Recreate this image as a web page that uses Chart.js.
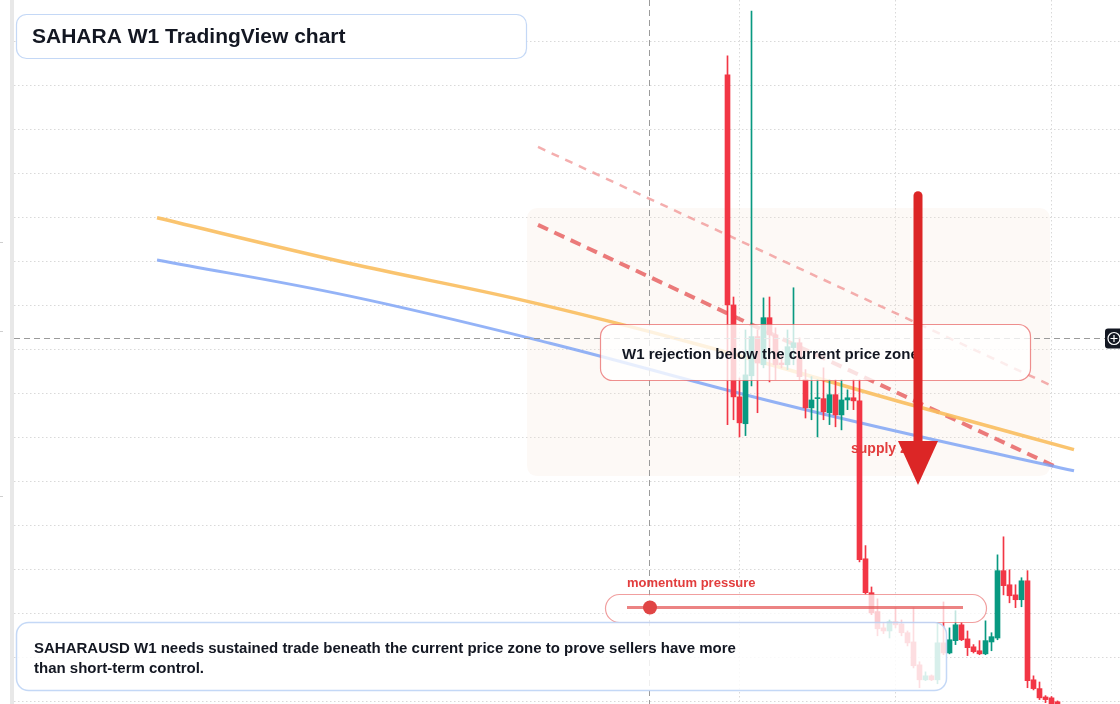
<!DOCTYPE html>
<html>
<head>
<meta charset="utf-8">
<title>SAHARA W1 TradingView chart</title>
<script src="https://cdn.jsdelivr.net/npm/chart.js@4.4.1/dist/chart.umd.min.js"></script>
<style>
  html, body { margin: 0; padding: 0; background: #ffffff; }
  #wrap { position: relative; width: 1120px; height: 704px; overflow: hidden; }
</style>
</head>
<body>
<div id="wrap"><canvas id="chart" width="1120" height="704"></canvas></div>
<script>
// weekly SAHARAUSD candles, oldest first
const opens  = [0.1625,0.1102,0.0893,0.0832,0.0941,0.1030,0.0966,0.1073,0.1034,0.0970,0.0966,0.1005,0.1016,0.0932,0.0868,0.0889,0.0889,0.0857,0.0898,0.0852,0.0886,0.0891,0.0884,0.0525,0.0448,0.0405,0.0368,0.0361,0.0382,0.0377,0.0357,0.0336,0.0284,0.0250,0.0259,0.0250,0.0334,0.0311,0.0339,0.0375,0.0343,0.0325,0.0316,0.0309,0.0336,0.0345,0.0498,0.0466,0.0443,0.0432,0.0475,0.0250,0.0230,0.0211,0.0209,0.0200];
const highs  = [0.1668,0.1120,0.0936,0.1045,0.1770,0.1045,0.1118,0.1120,0.1050,0.0989,0.1045,0.1141,0.1027,0.0955,0.0939,0.0932,0.0959,0.0932,0.0932,0.0932,0.0909,0.0932,0.0932,0.0555,0.0461,0.0434,0.0380,0.0386,0.0414,0.0386,0.0361,0.0414,0.0291,0.0268,0.0261,0.0380,0.0427,0.0368,0.0407,0.0380,0.0361,0.0330,0.0339,0.0384,0.0357,0.0534,0.0575,0.0500,0.0466,0.0482,0.0498,0.0259,0.0245,0.0214,0.0212,0.0202];
const lows   = [0.0830,0.0841,0.0802,0.0805,0.0918,0.0857,0.0959,0.0927,0.0932,0.0959,0.0955,0.0966,0.0932,0.0845,0.0841,0.0802,0.0841,0.0830,0.0825,0.0818,0.0864,0.0864,0.0518,0.0445,0.0398,0.0350,0.0355,0.0345,0.0368,0.0350,0.0327,0.0277,0.0232,0.0248,0.0248,0.0241,0.0307,0.0309,0.0330,0.0339,0.0305,0.0311,0.0307,0.0307,0.0316,0.0341,0.0443,0.0425,0.0414,0.0416,0.0232,0.0227,0.0205,0.0198,0.0182,0.0177];
const closes = [0.1102,0.0893,0.0834,0.0943,0.1030,0.0970,0.1073,0.1034,0.0966,0.0966,0.1007,0.1016,0.0939,0.0868,0.0886,0.0891,0.0859,0.0898,0.0852,0.0886,0.0891,0.0884,0.0523,0.0448,0.0402,0.0366,0.0361,0.0382,0.0375,0.0357,0.0334,0.0282,0.0250,0.0259,0.0250,0.0334,0.0311,0.0341,0.0375,0.0341,0.0323,0.0314,0.0309,0.0339,0.0348,0.0498,0.0464,0.0441,0.0432,0.0475,0.0248,0.0230,0.0209,0.0205,0.0191,0.0186];
const weeks = opens.map((_, i) => i);

// moving averages (week index / price)
const slowWeeks = [-95.08, -62.92, -34.58, -4.58, 28.75, 57.75];
const slowVals  = [0.1300, 0.1196, 0.1114, 0.1011, 0.0882, 0.0773];
const fastWeeks = [-95.08, -62.92, -29.58, 3.75, 28.75, 57.75];
const fastVals  = [0.1204, 0.1122, 0.1015, 0.0895, 0.0813, 0.0725];

// descending trendlines
const outerTrendWeeks = [-31.58, 54.08];
const outerTrendVals  = [0.1461, 0.0918];
const innerTrendWeeks = [-31.58, 54.42];
const innerTrendVals  = [0.1284, 0.0736];

// supply zone, arrow, crosshair
const zoneWeeks = [-33.42, 53.75];
const zonePrices = [0.1322, 0.0713];
const arrowWeek = 31.75;
const arrowPrices = [0.1350, 0.0793, 0.0693];
const crossWeek = -13.08;
const crossPrice = 0.1027;

// grid
const priceGrid = [0.17, 0.16, 0.15, 0.14, 0.13, 0.12, 0.11, 0.10, 0.09, 0.08, 0.07, 0.06, 0.05, 0.04, 0.03, 0.02];
const timeGrid = [2, 28, 54];

const UP = '#089981';
const DOWN = '#f23645';
const candleColors = weeks.map(i => closes[i] >= opens[i] ? UP : DOWN);
const FONT = '"Liberation Sans", Arial, sans-serif';
const INK = '#131722';

function roundBox(ctx, x, y, w, h, r, fill, stroke, lw) {
    ctx.beginPath();
    ctx.roundRect(x, y, w, h, r);
    if (fill) { ctx.fillStyle = fill; ctx.fill(); }
    if (stroke) { ctx.strokeStyle = stroke; ctx.lineWidth = lw || 1; ctx.stroke(); }
}

const drawings = {
    id: 'drawings',
    beforeDatasetsDraw(chart) {
        const { ctx, scales: { x, y } } = chart;
        const x0 = x.getPixelForValue(zoneWeeks[0]);
        const x1 = x.getPixelForValue(zoneWeeks[1]);
        const y0 = y.getPixelForValue(zonePrices[0]);
        const y1 = y.getPixelForValue(zonePrices[1]);
        ctx.save();
        roundBox(ctx, x0, y0, x1 - x0, y1 - y0, 10, 'rgba(246,226,212,0.22)');
        ctx.restore();
    },
    afterDatasetsDraw(chart) {
        const { ctx, scales: { x, y } } = chart;
        ctx.save();

        // crosshair
        const cx = Math.round(x.getPixelForValue(crossWeek)) + 0.5;
        const cy = Math.round(y.getPixelForValue(crossPrice)) + 0.5;
        ctx.strokeStyle = '#9b9b9b';
        ctx.lineWidth = 1;
        ctx.setLineDash([6, 4]);
        ctx.beginPath();
        ctx.moveTo(cx, 0); ctx.lineTo(cx, 704);
        ctx.moveTo(14, cy); ctx.lineTo(1105, cy);
        ctx.stroke();
        ctx.setLineDash([]);

        // annotation boxes
        roundBox(ctx, 600.5, 324.5, 430, 56, 12, 'rgba(255,255,255,0.78)', 'rgba(232,95,95,0.7)', 1.2);
        roundBox(ctx, 605.5, 594.5, 381, 28, 14, 'rgba(255,255,255,0.75)', 'rgba(232,95,95,0.6)', 1.2);
        roundBox(ctx, 16.5, 622.5, 930, 68, 12, 'rgba(255,255,255,0.84)', 'rgba(190,212,245,0.9)', 1.5);
        roundBox(ctx, 16.5, 14.5, 510, 44, 10, '#ffffff', 'rgba(190,212,245,0.9)', 1.2);

        // momentum gauge
        ctx.strokeStyle = 'rgba(230,90,90,0.75)';
        ctx.lineWidth = 3;
        ctx.beginPath(); ctx.moveTo(627, 607.5); ctx.lineTo(963, 607.5); ctx.stroke();
        ctx.fillStyle = '#e04545';
        ctx.beginPath(); ctx.arc(650, 607.5, 7, 0, Math.PI * 2); ctx.fill();

        // texts
        ctx.textBaseline = 'middle';
        ctx.fillStyle = INK;
        ctx.font = 'bold 21px ' + FONT;
        ctx.fillText('SAHARA W1 TradingView chart', 32, 37);
        ctx.font = 'bold 15px ' + FONT;
        ctx.fillText('W1 rejection below the current price zone', 622, 355);
        ctx.fillText('SAHARAUSD W1 needs sustained trade beneath the current price zone to prove sellers have more', 34, 649);
        ctx.fillText('than short-term control.', 34, 669);
        ctx.fillStyle = '#e23d3d';
        ctx.font = 'bold 13px ' + FONT;
        ctx.fillText('momentum pressure', 627, 583);
        ctx.font = 'bold 14px ' + FONT;
        ctx.fillText('supply zone', 851, 449);

        // arrow
        const ax = x.getPixelForValue(arrowWeek);
        const aTop = y.getPixelForValue(arrowPrices[0]);
        const aBase = y.getPixelForValue(arrowPrices[1]);
        const aTip = y.getPixelForValue(arrowPrices[2]);
        ctx.strokeStyle = '#dc2626';
        ctx.fillStyle = '#dc2626';
        ctx.lineWidth = 9;
        ctx.lineCap = 'round';
        ctx.beginPath(); ctx.moveTo(ax, aTop); ctx.lineTo(ax, aBase + 4); ctx.stroke();
        ctx.beginPath();
        ctx.moveTo(ax - 20, aBase); ctx.lineTo(ax + 20, aBase); ctx.lineTo(ax, aTip);
        ctx.closePath(); ctx.fill();

        // crosshair price marker
        roundBox(ctx, 1105, cy - 10, 20, 20, 3, '#131722');
        ctx.strokeStyle = '#ffffff';
        ctx.lineWidth = 1.2;
        ctx.lineCap = 'butt';
        ctx.beginPath(); ctx.arc(1114, cy, 6, 0, Math.PI * 2); ctx.stroke();
        ctx.beginPath();
        ctx.moveTo(1110.5, cy); ctx.lineTo(1117.5, cy);
        ctx.moveTo(1114, cy - 3.5); ctx.lineTo(1114, cy + 3.5);
        ctx.stroke();

        // left edge strip
        ctx.fillStyle = '#e8e8e8';
        ctx.fillRect(10, 0, 4, 704);
        ctx.fillStyle = '#cfcfcf';
        [242, 331, 496].forEach(t => ctx.fillRect(0, t, 3, 1));

        ctx.restore();
    }
};

const gridStyle = { color: '#d9d9d9', lineWidth: 1, drawTicks: false, offset: false };
const borderStyle = { display: false, dash: [1.5, 2.5] };

new Chart(document.getElementById('chart'), {
    type: 'bar',
    data: {
        datasets: [
            {
                type: 'line',
                data: outerTrendWeeks.map((w, i) => ({ x: w, y: outerTrendVals[i] })),
                borderColor: 'rgba(240,140,140,0.7)',
                borderWidth: 2.5,
                borderDash: [8, 7],
                pointRadius: 0,
                order: 5
            },
            {
                type: 'line',
                data: innerTrendWeeks.map((w, i) => ({ x: w, y: innerTrendVals[i] })),
                borderColor: 'rgba(232,100,100,0.85)',
                borderWidth: 4,
                borderDash: [11, 7],
                pointRadius: 0,
                order: 5
            },
            {
                type: 'line',
                data: slowWeeks.map((w, i) => ({ x: w, y: slowVals[i] })),
                borderColor: 'rgba(249,190,95,0.9)',
                borderWidth: 3.5,
                pointRadius: 0,
                cubicInterpolationMode: 'monotone',
                order: 4
            },
            {
                type: 'line',
                data: fastWeeks.map((w, i) => ({ x: w, y: fastVals[i] })),
                borderColor: 'rgba(125,162,245,0.82)',
                borderWidth: 3,
                pointRadius: 0,
                tension: 0.4,
                order: 4
            },
            {
                data: weeks.map(i => ({ x: i, y: [lows[i], highs[i]] })),
                backgroundColor: candleColors,
                barThickness: 1,
                grouped: false,
                order: 2
            },
            {
                data: weeks.map(i => ({ x: i, y: [opens[i], closes[i]] })),
                backgroundColor: candleColors,
                barThickness: 5,
                minBarLength: 1,
                grouped: false,
                order: 1
            }
        ]
    },
    options: {
        responsive: false,
        animation: false,
        devicePixelRatio: 1,
        layout: { padding: { left: 14 } },
        plugins: {
            legend: { display: false },
            tooltip: { enabled: false }
        },
        scales: {
            x: {
                type: 'linear',
                min: -118.9167,
                max: 65.4167,
                offset: false,
                grid: gridStyle,
                border: borderStyle,
                ticks: { display: false },
                afterBuildTicks: (scale) => { scale.ticks = timeGrid.map(v => ({ value: v })); }
            },
            y: {
                type: 'linear',
                min: 0.0195,
                max: 0.1795,
                grid: gridStyle,
                border: borderStyle,
                ticks: { display: false },
                afterBuildTicks: (scale) => { scale.ticks = priceGrid.map(v => ({ value: v })); }
            }
        }
    },
    plugins: [drawings]
});
</script>
</body>
</html>
